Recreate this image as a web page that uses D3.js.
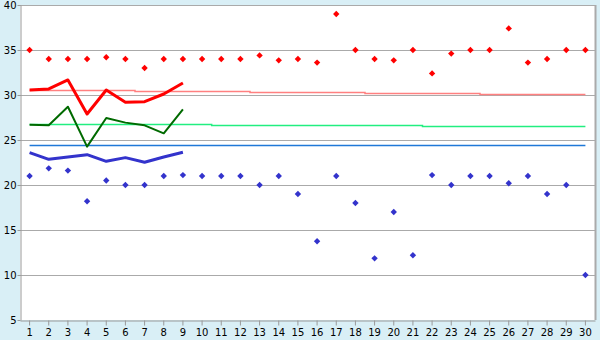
<!DOCTYPE html>
<html>
<head>
<meta charset="utf-8">
<script src="https://cdn.jsdelivr.net/npm/d3@7"></script>
<style>
  body { margin: 0; background: #d9eff6; }
  svg { display: block; }
  .tick text { font-family: "DejaVu Sans", Verdana, sans-serif; font-size: 10px; fill: #000; }
</style>
</head>
<body>
<div id="chart"></div>
<script>
// days of the month and readings
const days = [1,2,3,4,5,6,7,8,9,10,11,12,13,14,15,16,17,18,19,20,21,22,23,24,25,26,27,28,29,30];
const yTicks = [5,10,15,20,25,30,35,40];

const maxTemps = [35,34,34,34,34.2,34,33,34,34,34,34,34,34.4,33.85,34,33.6,39,35,34,33.85,
                  35,32.4,34.6,35,35,37.4,33.6,34,35,35];
const minTemps = [21,21.85,21.6,18.2,20.5,20,20,21,21.1,21,21,21,20,21,19,13.75,21,18,11.85,17,
                  12.2,21.1,20,21,21,20.2,21,19,20,10];

// measured curves, first nine days
const redLine   = [30.56,30.67,31.67,27.89,30.56,29.19,29.26,30.11,31.33];
const greenLine = [26.7,26.63,28.7,24.26,27.44,26.93,26.63,25.74,28.41];
const blueLine  = [23.59,22.85,23.11,23.37,22.63,23.04,22.52,23.11,23.63];

// reference (normal) curves over the month
const normalHigh = [30.56,30.56,30.56,30.56,30.56,30.56,30.45,30.45,30.45,30.45,30.45,30.45,
                    30.33,30.33,30.33,30.33,30.33,30.33,30.22,30.22,30.22,30.22,30.22,30.22,
                    30.11,30.11,30.11,30.11,30.11,30.11];
const normalMean = [26.78,26.78,26.78,26.78,26.78,26.78,26.78,26.78,26.78,26.78,
                    26.67,26.67,26.67,26.67,26.67,26.67,26.67,26.67,26.67,26.67,26.67,
                    26.56,26.56,26.56,26.56,26.56,26.56,26.56,26.56,26.56];
const normalLow  = [24.44,24.44,24.44,24.44,24.44,24.44,24.44,24.44,24.44,24.44,
                    24.44,24.44,24.44,24.44,24.44,24.44,24.44,24.44,24.44,24.44,
                    24.44,24.44,24.44,24.44,24.44,24.44,24.44,24.44,24.44,24.44];

const W = 600, H = 340,
      plot = {left: 20, right: 595, top: 5, bottom: 320};

const svg = d3.select('#chart').append('svg')
    .attr('width', W)
    .attr('height', H);

svg.append('rect')
    .attr('x', plot.left).attr('y', plot.top)
    .attr('width', plot.right - plot.left)
    .attr('height', plot.bottom - plot.top)
    .attr('fill', '#fff');

const x = d3.scaleBand().domain(days).range([plot.left, plot.right]);
const y = d3.scaleLinear().domain([5, 40]).range([plot.bottom, plot.top]);
const cx = d => x(d) + x.bandwidth() / 2;

// grid
svg.append('g').selectAll('line')
    .data(yTicks.slice(1))
    .enter().append('line')
    .attr('x1', plot.left).attr('x2', plot.right)
    .attr('y1', d => Math.round(y(d)) + 0.5)
    .attr('y2', d => Math.round(y(d)) + 0.5)
    .attr('stroke', '#aaa');

// right border
svg.append('line')
    .attr('x1', plot.right + 0.5).attr('x2', plot.right + 0.5)
    .attr('y1', plot.top).attr('y2', plot.bottom)
    .attr('stroke', '#aaa').attr('stroke-width', 2);

const xAxis = svg.append('g')
    .attr('transform', 'translate(0,' + (plot.bottom + 0.5) + ')')
    .call(d3.axisBottom(x).tickSize(5).tickSizeOuter(0));
xAxis.selectAll('.tick text').attr('y', 8);

const yAxis = svg.append('g')
    .attr('transform', 'translate(' + (plot.left + 0.5) + ',0)')
    .call(d3.axisLeft(y).tickValues(yTicks).tickSize(3).tickSizeOuter(0));
yAxis.selectAll('.tick text').attr('x', -4);

svg.selectAll('.domain, .tick line').attr('stroke', '#999');

// normal lines (stepped)
const stepLine = d3.line()
    .x((d, i) => cx(days[i]))
    .y(d => Math.round(y(d)) + 0.5)
    .curve(d3.curveStep);

[[normalHigh, '#ff8080'], [normalMean, '#22ee80'], [normalLow, '#1f78d8']].forEach(function (s) {
    svg.append('path')
        .datum(s[0])
        .attr('d', stepLine)
        .attr('fill', 'none')
        .attr('stroke', s[1])
        .attr('stroke-width', 1.5);
});

// measured lines
const line = d3.line()
    .x((d, i) => cx(days[i]))
    .y(d => y(d));

[[redLine, '#ff0000', 3], [greenLine, '#006a00', 2], [blueLine, '#3333cc', 3]].forEach(function (s) {
    svg.append('path')
        .datum(s[0])
        .attr('d', line)
        .attr('fill', 'none')
        .attr('stroke', s[1])
        .attr('stroke-width', s[2])
        .attr('stroke-linejoin', 'round');
});

// markers
const diamond = d3.symbol().type(d3.symbolDiamond2).size(26);

svg.append('g').selectAll('path')
    .data(maxTemps)
    .enter().append('path')
    .attr('d', diamond)
    .attr('transform', (d, i) => 'translate(' + cx(days[i]) + ',' + y(d) + ')')
    .attr('fill', '#ff0000');

svg.append('g').selectAll('path')
    .data(minTemps)
    .enter().append('path')
    .attr('d', diamond)
    .attr('transform', (d, i) => 'translate(' + cx(days[i]) + ',' + y(d) + ')')
    .attr('fill', '#3333cc');
</script>
</body>
</html>
